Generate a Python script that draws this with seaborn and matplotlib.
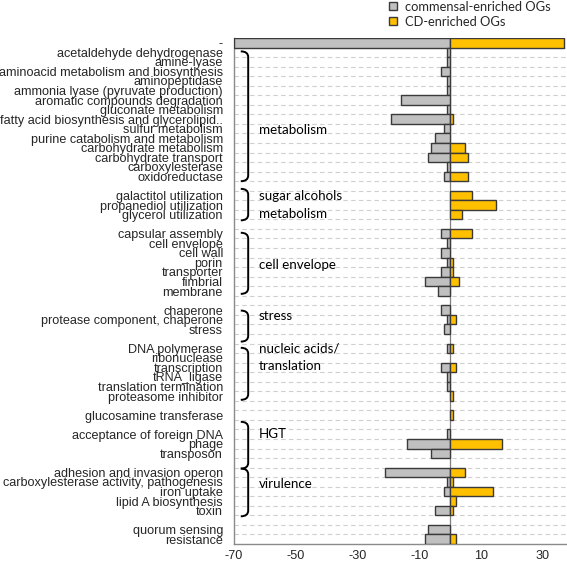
import matplotlib
matplotlib.use("Agg")
import matplotlib.pyplot as plt
import seaborn as sns
import pandas as pd
from matplotlib.path import Path
from matplotlib.patches import PathPatch
from matplotlib.lines import Line2D
from matplotlib.ticker import FixedLocator

# ---------------- data ----------------
categories = [
    "-", "acetaldehyde dehydrogenase", "amine-lyase", "aminoacid metabolism and biosynthesis",
    "aminopeptidase", "ammonia lyase (pyruvate production)", "aromatic compounds degradation",
    "gluconate metabolism", "fatty acid biosynthesis and glycerolipid..", "sulfur metabolism",
    "purine catabolism and metabolism", "carbohydrate metabolism", "carbohydrate transport",
    "carboxylesterase", "oxidoreductase", " ",
    "galactitol utilization", "propanediol utilization", "glycerol utilization", "  ",
    "capsular assembly", "cell envelope", "cell wall", "porin", "transporter", "fimbrial",
    "membrane", "   ",
    "chaperone", "protease component, chaperone", "stress", "    ",
    "DNA polymerase", "ribonuclease", "transcription", "tRNA_ligase", "translation termination",
    "proteasome inhibitor", "     ",
    "glucosamine transferase", "      ",
    "acceptance of foreign DNA", "phage", "transposon", "       ",
    "adhesion and invasion operon", "carboxylesterase activity, pathogenesis", "iron uptake",
    "lipid A biosynthesis", "toxin", "        ",
    "quorum sensing", "resistance",
]
commensal = [
    -70, -1, -1, -3, -1, -1, -16, -1, -19, -2, -5, -6, -7, -1, -2, 0,
    0, 0, 0, 0,
    -3, -1, -3, -1, -3, -8, -4, 0,
    -3, -1, -2, 0,
    -1, 0, -3, -1, -1, 0, 0,
    0, 0,
    -1, -14, -6, 0,
    -21, -1, -2, 0, -5, 0,
    -7, -8,
]
cd_enriched = [
    37, 0, 0, 0, 0, 0, 0, 0, 1, 0, 0, 5, 6, 0, 6, 0,
    7, 15, 4, 0,
    7, 0, 0, 1, 1, 3, 0, 0,
    0, 2, 0, 0,
    1, 0, 2, 0, 0, 1, 0,
    1, 0,
    0, 17, 0, 0,
    5, 1, 14, 2, 1, 0,
    0, 2,
]
series_names = ["commensal-enriched OGs", "CD-enriched OGs"]
x_ticks = [-70, -50, -30, -10, 10, 30]

groups = [  # label, label row, bracket top, bracket bottom
    ("metabolism", 9.1, 0.9, 14.5),
    ("sugar alcohols\nmetabolism", 17.0, 15.3, 18.6),
    ("cell envelope", 23.3, 19.9, 26.3),
    ("stress", 28.6, 28.05, 31.3),
    ("nucleic acids/\ntranslation", 32.9, 31.95, 37.4),
    ("HGT", 41.0, 39.7, 44.6),
    ("virulence", 46.2, 44.6, 49.6),
]

rows = []
for c, v in zip(categories, commensal):
    if v != 0:
        rows.append((c, v, series_names[0]))
for c, v in zip(categories, cd_enriched):
    if v != 0:
        rows.append((c, v, series_names[1]))
df = pd.DataFrame(rows, columns=["category", "value", "series"])

# ---------------- figure ----------------
sns.set_style("white")
plt.rcParams["font.family"] = ["Liberation Sans", "DejaVu Sans"]

fig = plt.figure(figsize=(5.67, 5.63), dpi=100)
ax = fig.add_axes([234 / 567, 1 - 544 / 563, 332 / 567, (544 - 38) / 563])

gray = "#C0C0C0"
gold = "#FFC000"
sns.barplot(data=df, x="value", y="category", hue="series", order=categories,
            hue_order=series_names, palette=[gray, gold], saturation=1, dodge=False,
            width=1.0, orient="h", edgecolor="#3a3a3a", linewidth=1.0, legend=False,
            ax=ax, zorder=3)

ax.set_xlim(-70, 37.6)
ax.set_ylim(len(categories) - 0.5, -0.5)
ax.set_xticks(x_ticks)
ax.set_xticklabels([str(t) for t in x_ticks])
ax.set_xlabel("")
ax.set_ylabel("")

# dashed gridlines at category boundaries
ax.yaxis.set_minor_locator(FixedLocator([i + 0.5 for i in range(len(categories) - 1)]))
ax.grid(False)
ax.grid(which="minor", axis="y", linestyle=(0, (4, 3)), color="#cfcfcf", linewidth=0.8, zorder=0)
ax.tick_params(axis="y", which="both", length=0, pad=8, labelsize=9.1)
ax.tick_params(axis="x", length=0, pad=4, labelsize=9.1)
ax.axvline(0, color="#7f7f7f", linewidth=0.9, zorder=2)

for s in ["top", "right"]:
    ax.spines[s].set_visible(False)
for s in ["left", "bottom"]:
    ax.spines[s].set_color("#8a8a8a")
    ax.spines[s].set_linewidth(1.0)

# group brackets and labels
xl, xv = -67.8, -65.4
for label, ly, top, bot in groups:
    verts = [(xl, top), (xv, top), (xv, top + 0.6), (xv, bot - 0.6), (xv, bot), (xl, bot)]
    codes = [Path.MOVETO, Path.CURVE3, Path.CURVE3, Path.LINETO, Path.CURVE3, Path.CURVE3]
    ax.add_patch(PathPatch(Path(verts, codes), facecolor="none", edgecolor="black",
                           linewidth=1.4, zorder=4, clip_on=False))
    ax.text(-61.9, ly, label, fontsize=9.6, family=["Lato", "DejaVu Sans"],
            va="center", ha="left", linespacing=1.55, zorder=5, color="black")

handles = [Line2D([], [], marker="s", linestyle="none", markersize=5.5,
                  markerfacecolor=c, markeredgecolor="#3a3a3a", markeredgewidth=1.0)
           for c in (gray, gold)]
fig.legend(handles, series_names, loc="upper left", bbox_to_anchor=(380 / 567, 1.012),
           frameon=False, handlelength=0.8, handletextpad=0.5, labelspacing=0.2,
           borderpad=0.1, prop={"family": "Lato", "size": 9.3})

fig.savefig("out.png", dpi=100)
